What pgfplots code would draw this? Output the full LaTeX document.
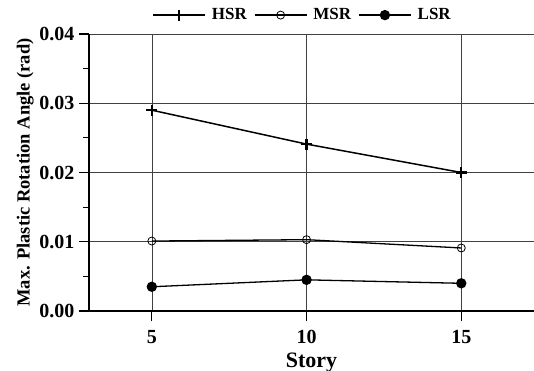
\documentclass[border=0pt]{standalone}
\usepackage{pgfplots}
\pgfplotsset{compat=1.18}
\usepackage{fontspec}
\setmainfont{Liberation Serif}
\begin{document}
\begin{tikzpicture}[x=1pt,y=1pt]
\useasboundingbox (-89,-60) rectangle (445,311);
\begin{axis}[
  at={(0,0)}, anchor=origin,
  scale only axis, width=445pt, height=277pt,
  xmin=2.97, xmax=17.35, ymin=0, ymax=0.04,
  axis x line*=bottom, axis y line*=left,
  axis line style={line width=2.2pt, -},
  xtick={5,10,15},
  ytick={0,0.01,0.02,0.03,0.04},
  minor ytick={0.005,0.015,0.025,0.035},
  tick align=outside,
  major tick length=10pt, minor tick length=6pt,
  tick style={line width=1.2pt, black},
  xmajorgrids, ymajorgrids,
  grid style={line width=0.6pt, black!75},
  /pgf/number format/assume math mode=true,
  yticklabel style={/pgf/number format/fixed, /pgf/number format/fixed zerofill, /pgf/number format/precision=2, font=\bfseries\fontsize{20}{22}\selectfont, xshift=-1pt},
  xticklabel style={font=\bfseries\fontsize{20}{22}\selectfont, yshift=-6pt},
  scaled y ticks=false,
  xlabel={Story}, ylabel={Max. Plastic Rotation Angle (rad)},
  xlabel style={font=\bfseries\fontsize{22}{24}\selectfont, yshift=-2pt},
  ylabel style={font=\bfseries\fontsize{18.5}{20}\selectfont, yshift=-1pt},
  legend columns=3,
  legend style={at={(0.48,1.03)}, anchor=south, draw=none, fill=none,
    font=\bfseries\fontsize{17}{19}\selectfont,
    /tikz/every even column/.append style={column sep=5pt},
    /tikz/every odd column/.append style={column sep=4pt}},
  legend image code/.code={
    \draw[line width=1.5pt] (0pt,0pt) -- (52pt,0pt);
    \draw[mark repeat=2,mark phase=2] plot coordinates {(0pt,0pt) (26pt,0pt) (52pt,0pt)};
  },
  clip=false,
]
\addplot[black, line width=1.5pt, mark=+, mark size=5.5pt, mark options={line width=2.4pt}]
  coordinates {(5,0.0290) (10,0.0241) (15,0.0200)};
\addlegendentry{HSR}
\addplot[black, line width=1.3pt, mark=o, mark size=4pt, mark options={line width=0.8pt, fill=white}]
  coordinates {(5,0.0101) (10,0.0103) (15,0.0091)};
\addlegendentry{MSR}
\addplot[black, line width=1.3pt, mark=*, mark size=4.5pt]
  coordinates {(5,0.0035) (10,0.0045) (15,0.0040)};
\addlegendentry{LSR}
\end{axis}
\end{tikzpicture}
\end{document}
